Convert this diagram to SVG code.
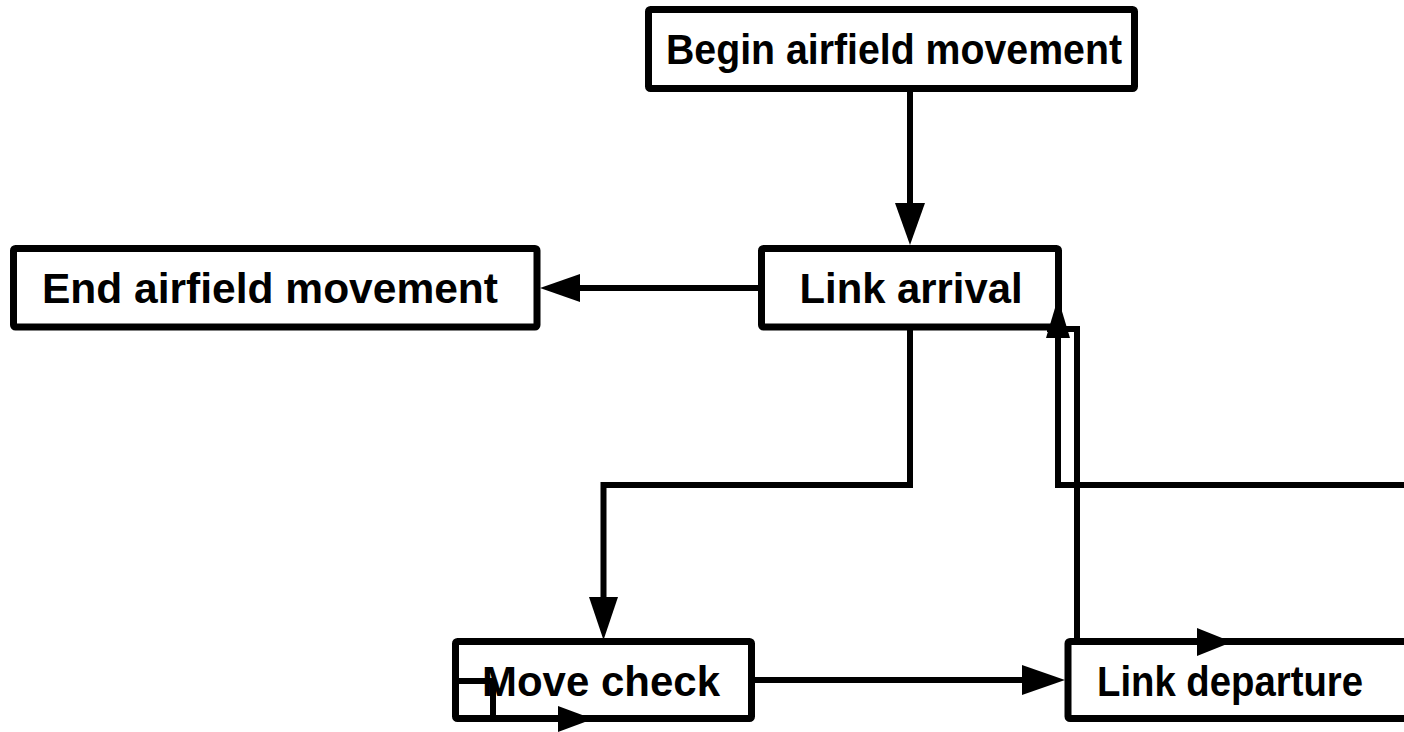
<svg xmlns="http://www.w3.org/2000/svg" width="1404" height="732" viewBox="0 0 1404 732">
<style>
.box{fill:#fff;stroke:#000;stroke-width:7;stroke-linejoin:round}
.lbl{font-family:"Liberation Sans",Arial,sans-serif;font-weight:bold;font-size:42px;fill:#000}
.c{fill:none;stroke:#000;stroke-width:6;stroke-linejoin:miter}
.ah{fill:#000;stroke:none}
</style>
<rect width="1404" height="732" fill="#fff"/>
<g id="node-begin">
<rect class="box" x="648.5" y="9.5" width="486" height="79" rx="2"/>
<text class="lbl" x="894" y="64" text-anchor="middle" textLength="456" lengthAdjust="spacingAndGlyphs">Begin airfield movement</text>
</g>
<g id="node-end">
<rect class="box" x="13.5" y="248.5" width="523.5" height="78.5" rx="2"/>
<text class="lbl" x="270" y="303" text-anchor="middle" textLength="456" lengthAdjust="spacingAndGlyphs">End airfield movement</text>
</g>
<g id="node-arrival">
<rect class="box" x="761.5" y="248.5" width="297" height="78.5" rx="2"/>
<text class="lbl" x="911" y="303" text-anchor="middle" textLength="223" lengthAdjust="spacingAndGlyphs">Link arrival</text>
</g>
<g id="node-move">
<rect class="box" x="455.5" y="641.5" width="296" height="77" rx="2"/>
<text class="lbl" x="601" y="696" text-anchor="middle" textLength="238" lengthAdjust="spacingAndGlyphs">Move check</text>
</g>
<g id="node-departure">
<rect class="box" x="1068" y="641.5" width="360" height="77" rx="2"/>
<text class="lbl" x="1097" y="696" textLength="266" lengthAdjust="spacingAndGlyphs">Link departure</text>
</g>
<g id="connectors">
<path class="c" d="M910 92 V205"/>
<polygon class="ah" points="895,203 925,203 910,245"/>
<path class="c" d="M761 288 H578"/>
<polygon class="ah" points="580,274 580,302 540,288"/>
<path class="c" d="M910 327 V485 H603.5 V600"/>
<polygon class="ah" points="589,597 618,597 603.5,640"/>
<path class="c" d="M752 680 H1025"/>
<polygon class="ah" points="1022,665 1022,695 1065,680"/>
<path class="c" d="M1404 485 H1058 V336"/>
<path class="c" d="M1077 641 V329 H1047"/>
<polygon class="ah" points="1046,338 1070,338 1058,298"/>
<path class="c" d="M1077 641 H1404"/>
<polygon class="ah" points="1197,628 1197,656 1232,642"/>
<path class="c" d="M455 681 H493 V719 H560"/>
<polygon class="ah" points="558,706 558,732 593,719"/>
</g>
</svg>
